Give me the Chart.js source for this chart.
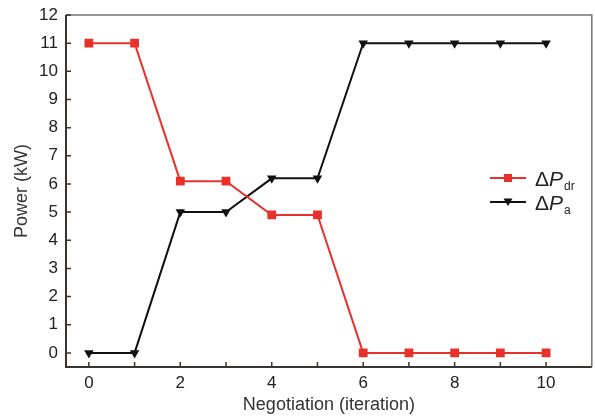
<!DOCTYPE html>
<html>
<head>
<meta charset="utf-8">
<script src="https://cdn.jsdelivr.net/npm/chart.js@4.4.0/dist/chart.umd.min.js"></script>
<style>
  html, body { margin: 0; padding: 0; background: #fff; overflow: hidden; }
  #wrap { width: 598px; height: 419px; }
</style>
</head>
<body>
<div id="wrap"><canvas id="grafico"></canvas></div>
<script>
// datos
const iteraciones = [0, 1, 2, 3, 4, 5, 6, 7, 8, 9, 10];
const potenciaDr = [11, 11, 6.1, 6.1, 4.9, 4.9, 0, 0, 0, 0, 0];
const potenciaA = [0, 0, 5, 5, 6.2, 6.2, 11, 11, 11, 11, 11];
const ticksX = [0, 2, 4, 6, 8, 10];

const ROJO = '#e8312b';
const NEGRO = '#111111';
const EJE = '#3b3532';
const MARCO = '#7a7572';
const FUENTE = '"Liberation Sans", Arial, sans-serif';

function puntos(valores) {
    let arr = [];
    for (let i = 0; i < iteraciones.length; i++) {
        arr.push({x: iteraciones[i], y: valores[i]});
    }
    return arr;
}

// marco, ticks hacia adentro y leyenda con subindices
const extras = {
    id: 'extras',
    afterDraw(chart) {
        const ctx = chart.ctx;
        const a = chart.chartArea;
        const sx = chart.scales.x, sy = chart.scales.y;
        ctx.save();
        // arriba y derecha en gris
        ctx.strokeStyle = MARCO;
        ctx.lineWidth = 1.5;
        ctx.beginPath();
        ctx.moveTo(a.left, a.top);
        ctx.lineTo(a.right, a.top);
        ctx.lineTo(a.right, a.bottom);
        ctx.stroke();
        // ejes izquierdo e inferior
        ctx.strokeStyle = EJE;
        ctx.lineWidth = 2;
        ctx.beginPath();
        ctx.moveTo(a.left, a.top);
        ctx.lineTo(a.left, a.bottom);
        ctx.lineTo(a.right, a.bottom);
        ctx.stroke();
        ctx.lineWidth = 1.5;
        ctx.beginPath();
        for (let v = 0; v <= 10; v++) {
            const px = sx.getPixelForValue(v);
            ctx.moveTo(px, a.bottom);
            ctx.lineTo(px, a.bottom - 5);
        }
        for (let v = 0; v <= 12; v++) {
            const py = sy.getPixelForValue(v);
            ctx.moveTo(a.left, py);
            ctx.lineTo(a.left + 5, py);
        }
        ctx.stroke();

        // leyenda
        const items = [
            {color: ROJO, sub: 'dr', y: 178, estilo: 'rect'},
            {color: NEGRO, sub: 'a', y: 202, estilo: 'tri'}
        ];
        items.forEach(it => {
            ctx.strokeStyle = it.color;
            ctx.fillStyle = it.color;
            ctx.lineWidth = 2;
            ctx.beginPath();
            ctx.moveTo(490, it.y);
            ctx.lineTo(526, it.y);
            ctx.stroke();
            if (it.estilo === 'rect') {
                ctx.fillRect(504, it.y - 4, 8, 8);
            } else {
                ctx.beginPath();
                ctx.moveTo(503.5, it.y - 3.5);
                ctx.lineTo(512.5, it.y - 3.5);
                ctx.lineTo(508, it.y + 4);
                ctx.closePath();
                ctx.fill();
            }
            ctx.fillStyle = '#222';
            ctx.textBaseline = 'alphabetic';
            ctx.font = '21px ' + FUENTE;
            ctx.fillText('\u0394', 535, it.y + 8);
            const w = ctx.measureText('\u0394').width;
            ctx.font = 'italic 21px ' + FUENTE;
            ctx.fillText('P', 535 + w, it.y + 8);
            const w2 = ctx.measureText('P').width;
            ctx.font = '12px ' + FUENTE;
            ctx.fillText(it.sub, 535 + w + w2 + 1, it.y + 12);
        });
        ctx.restore();
    }
};

new Chart(document.getElementById('grafico'), {
    type: 'line',
    data: {
        datasets: [{
            label: 'dr',
            data: puntos(potenciaDr),
            borderColor: ROJO,
            backgroundColor: ROJO,
            borderWidth: 2,
            pointStyle: 'rect',
            pointRadius: 6.2,
            pointBorderWidth: 0
        }, {
            label: 'a',
            data: puntos(potenciaA),
            borderColor: NEGRO,
            backgroundColor: NEGRO,
            borderWidth: 2,
            pointStyle: 'triangle',
            pointRotation: 180,
            pointRadius: 5.5,
            pointBorderWidth: 0
        }]
    },
    options: {
        responsive: true,
        maintainAspectRatio: false,
        animation: false,
        layout: { padding: { top: 15, right: 2, left: 0, bottom: 0 } },
        plugins: { legend: { display: false }, tooltip: { enabled: false } },
        scales: {
            x: {
                type: 'linear',
                min: -0.5,
                max: 11,
                afterFit: s => { s.height = 52; s.paddingLeft = 0; s.paddingRight = 0; },
                afterBuildTicks: s => { s.ticks = ticksX.map(v => ({value: v})); },
                grid: { display: false, drawTicks: false },
                border: { display: false },
                ticks: {
                    padding: 6,
                    color: '#222',
                    font: { family: FUENTE, size: 17 }
                },
                title: {
                    display: true,
                    text: 'Negotiation (iteration)',
                    color: '#333',
                    padding: { top: 3, bottom: 3 },
                    font: { family: FUENTE, size: 18 }
                }
            },
            y: {
                min: -0.5,
                max: 12,
                afterFit: s => { s.width = 66; s.paddingTop = 0; s.paddingBottom = 0; },
                afterBuildTicks: s => {
                    let t = [];
                    for (let v = 0; v <= 12; v++) t.push({value: v});
                    s.ticks = t;
                },
                grid: { display: false, drawTicks: false },
                border: { display: false },
                ticks: {
                    padding: 8,
                    color: '#222',
                    font: { family: FUENTE, size: 17 }
                },
                title: {
                    display: true,
                    text: 'Power (kW)',
                    color: '#333',
                    padding: { top: 11, bottom: 3 },
                    font: { family: FUENTE, size: 18 }
                }
            }
        }
    },
    plugins: [extras]
});
</script>
</body>
</html>
